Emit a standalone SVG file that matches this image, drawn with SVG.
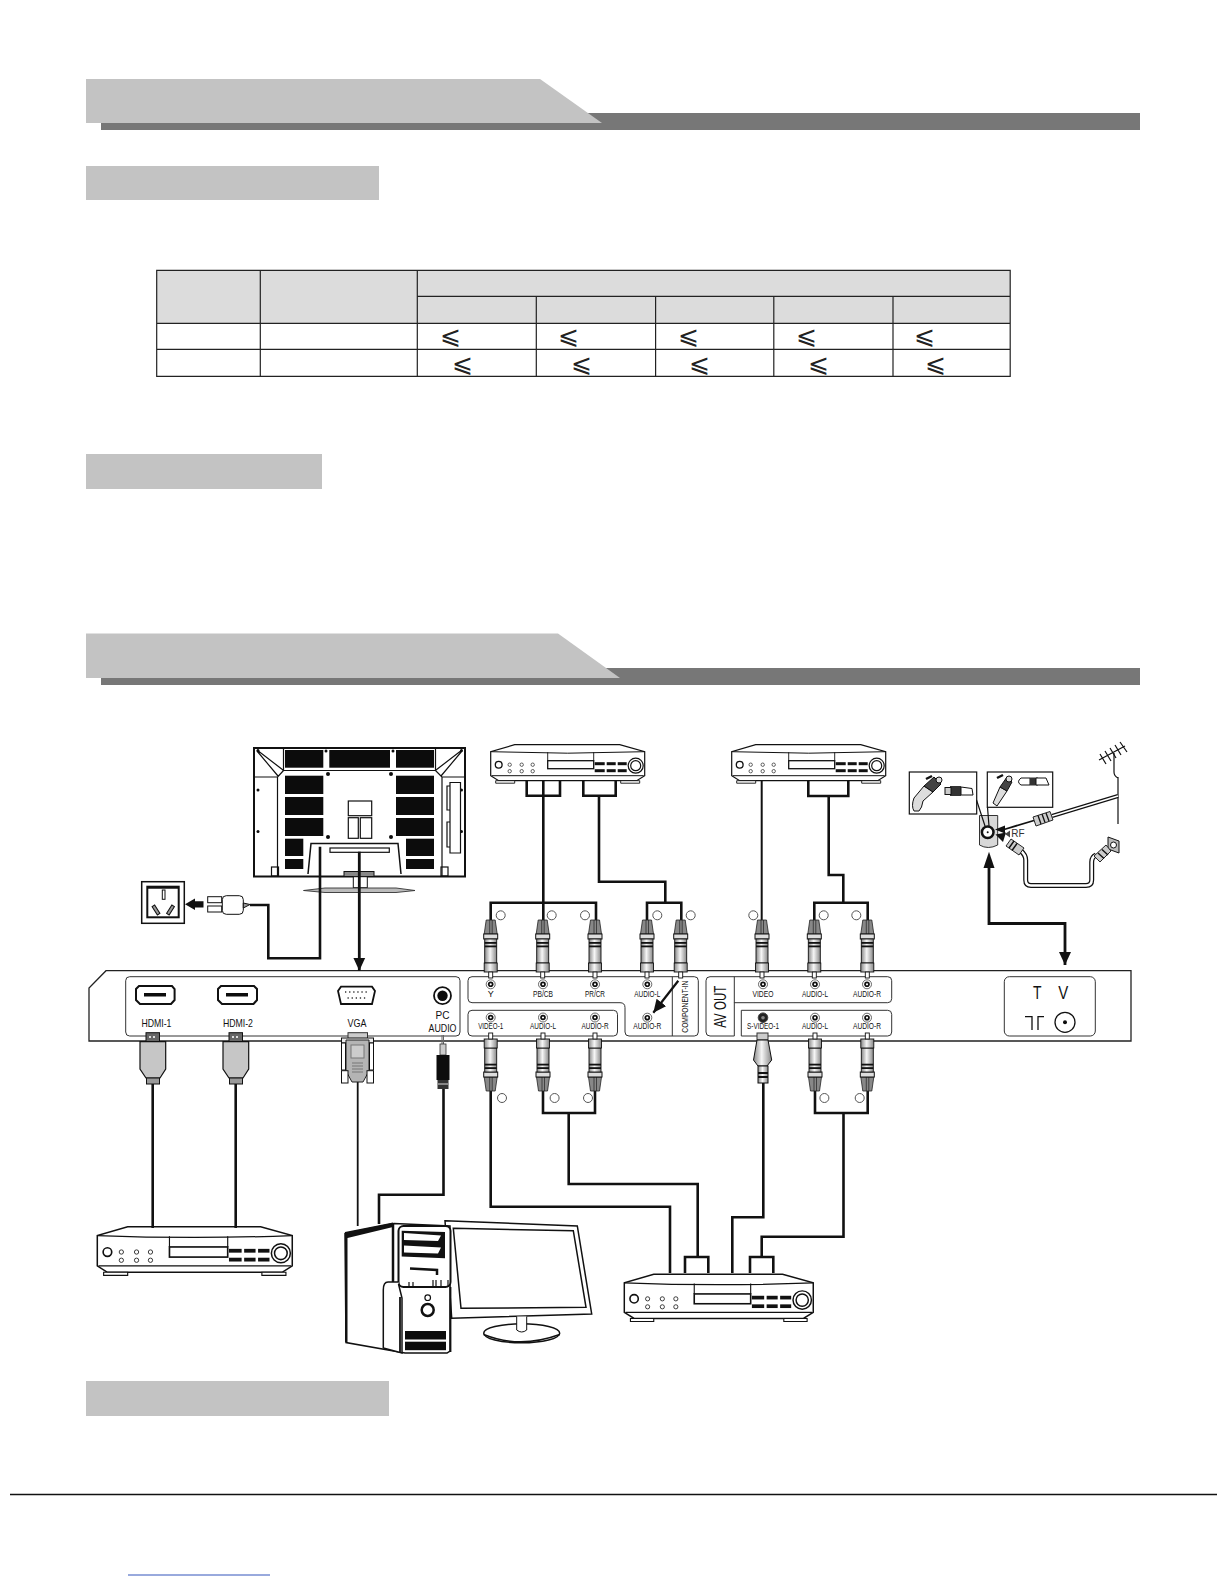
<svg xmlns="http://www.w3.org/2000/svg" width="1224" height="1584" viewBox="0 0 1224 1584">
<style>
text{font-family:"Liberation Sans",Arial,sans-serif;fill:#111;text-anchor:middle}
.s{font-size:9px}.m{font-size:11px}.l{font-size:17px}
.le{font-family:"DejaVu Sans",sans-serif;font-size:25px;font-weight:200;fill:#222}
.w{fill:none;stroke:#111;stroke-width:2.6;stroke-linejoin:miter}
.t{fill:none;stroke:#111;stroke-width:1.2}
.p{fill:#fff;stroke:#333;stroke-width:1}
.b{fill:#0c0c0c}
.c{fill:#fff;stroke:#555;stroke-width:1}
.cell{fill:#dcdcdc}
.tb{fill:none;stroke:#222;stroke-width:1.2}
.rib{fill:#ccc;stroke:#111;stroke-width:.9}
</style>
<defs>
<linearGradient id="g" x1="0" x2="1" y1="0" y2="0"><stop offset="0" stop-color="#888"/><stop offset=".45" stop-color="#f6f6f6"/><stop offset="1" stop-color="#888"/></linearGradient>
<marker id="ah" markerUnits="userSpaceOnUse" markerWidth="14" markerHeight="14" refX="13" refY="6.5" orient="auto"><path d="M0,0.5L13,6.5L0,12.5Z" fill="#111"/></marker>
<g id="jack"><circle r="4.5" fill="#fff" stroke="#444" stroke-width=".8"/><circle r="2.8" fill="#111"/><circle r="1.1" fill="#fff"/></g>
<g id="rca">
<path d="M-4.5,0H4.5L6.5,14H-6.5Z" fill="#888" stroke="#222" stroke-width=".8"/>
<path d="M-1,0V14M1.5,0V14" stroke="#222" stroke-width=".7"/>
<rect x="-7" y="14" width="14" height="5" fill="#ddd" stroke="#111"/>
<rect x="-6" y="19" width="12" height="24" fill="url(#g)" stroke="#111" stroke-width=".9"/>
<rect x="-6" y="22" width="12" height="1.8" fill="#111"/><rect x="-6" y="25.500" width="12" height="1.8" fill="#111"/>
<rect x="-6.500" y="43" width="13" height="9" fill="url(#g)" stroke="#111" stroke-width=".9"/>
<rect x="-2" y="52" width="4" height="6" fill="#fff" stroke="#111" stroke-width=".9"/>
</g>
<g id="dvd">
<path d="M24,0H129L154,7V31L146,36H8L0,31V7Z" fill="#fff" stroke="#111" stroke-width="1.2"/>
<path d="M0,7Q77,10 154,7M1,31H153" fill="none" stroke="#111" stroke-width="1"/>
<path d="M57,7.500V16M103,7.500V16" stroke="#111" stroke-width=".9"/>
<rect x="57" y="16" width="46" height="8" fill="#fff" stroke="#111" stroke-width="1.3"/>
<path d="M5,36H24V38.500H5ZM130,36H149V38.500H130Z" fill="#fff" stroke="#111" stroke-width=".9"/>
<circle cx="8" cy="20" r="3.400" fill="#fff" stroke="#111" stroke-width="1.3"/>
<g fill="#fff" stroke="#222" stroke-width=".7"><circle cx="19" cy="20" r="1.700"/><circle cx="31" cy="20" r="1.700"/><circle cx="42" cy="20" r="1.700"/><circle cx="19" cy="26.500" r="1.700"/><circle cx="31" cy="26.500" r="1.700"/><circle cx="42" cy="26.500" r="1.700"/></g>
<g fill="#111"><rect x="104" y="17.500" width="10" height="3"/><rect x="116" y="17.500" width="9" height="3"/><rect x="127" y="17.500" width="9" height="3"/><rect x="104" y="24.500" width="10" height="3"/><rect x="116" y="24.500" width="9" height="3"/><rect x="127" y="24.500" width="9" height="3"/></g>
<circle cx="145" cy="21" r="7.500" fill="#fff" stroke="#111" stroke-width="1.200"/><circle cx="145" cy="21" r="5" fill="#fff" stroke="#111" stroke-width="1.200"/>
</g>
</defs>
<rect width="1224" height="1584" fill="#fff"/>

<g id="heading-bars">
<path d="M585,113H1140V130H101V123H585Z" fill="#777"/>
<path d="M86,79H540L602,123H86Z" fill="#c3c3c3"/>
<rect x="86" y="166" width="293" height="34" fill="#c3c3c3"/>
<rect x="86" y="454" width="236" height="35" fill="#c3c3c3"/>
<path d="M600,668H1140V685H101V678H600Z" fill="#777"/>
<path d="M86,633.500H558L620,678H86Z" fill="#c3c3c3"/>
<rect x="86" y="1381" width="303" height="35" fill="#c3c3c3"/>
<path d="M10,1494.500H1217" stroke="#111" stroke-width="1.500"/>
<path d="M128,1575H270" stroke="#3355bb" stroke-width="1"/>
</g>

<g id="spec-table">
<rect class="cell" x="156.700" y="270.300" width="853.500" height="53"/>
<path class="tb" d="M156.700,270.300H1010.200V376.300H156.700ZM417.300,296.300H1010.200M156.700,323.300H1010.200M156.700,349.300H1010.200M260.300,270.300V376.300M417.300,270.300V376.300M536.300,296.300V376.300M655.600,296.300V376.300M773.800,296.300V376.300M893,296.300V376.300"/>
<text class="le" x="450.500" y="344">⩽</text><text class="le" x="568.700" y="344">⩽</text><text class="le" x="688" y="344">⩽</text><text class="le" x="806" y="344">⩽</text><text class="le" x="924.300" y="344">⩽</text>
<text class="le" x="462.700" y="372">⩽</text><text class="le" x="581" y="372">⩽</text><text class="le" x="699" y="372">⩽</text><text class="le" x="818" y="372">⩽</text><text class="le" x="935.500" y="372">⩽</text>
</g>

<g id="tv-rear">
<rect x="254" y="748" width="211" height="128.500" fill="#fff" stroke="#111" stroke-width="2"/>
<path class="t" d="M283.500,748V770.500H435.500V748M283.500,770.500L277.500,777V876M435.500,770.500L442,777V876M277.500,777H254M442,777H465M257,751L278,776M257,750L283,770"/>
<path class="t" d="M462,751L441,776M462,750L436,770"/>
<g class="b"><rect x="285" y="750" width="38.300" height="17.700"/><rect x="329.300" y="750" width="60.700" height="17.700"/><rect x="396" y="750" width="38" height="17.700"/>
<rect x="285" y="775.700" width="38.300" height="18.300"/><rect x="285" y="797" width="38.300" height="18"/><rect x="285" y="818" width="38.300" height="18"/>
<rect x="396" y="775.700" width="38" height="18.300"/><rect x="396" y="797" width="38" height="18"/><rect x="396" y="818" width="38" height="18"/>
<rect x="285" y="838.700" width="18.300" height="17.300"/><rect x="285" y="859" width="18.300" height="10"/><rect x="406" y="838.700" width="28" height="17.300"/><rect x="406" y="859" width="28" height="10"/>
<circle cx="258" cy="750.500" r="1.500"/><circle cx="461.500" cy="750.500" r="1.500"/><circle cx="258" cy="790" r="1.500"/><circle cx="258" cy="831.500" r="1.500"/><circle cx="461.500" cy="790" r="1.500"/><circle cx="461.500" cy="831.500" r="1.500"/><circle cx="326" cy="751" r="1.500"/><circle cx="393" cy="751" r="1.500"/><circle cx="328" cy="774" r="2"/><circle cx="391" cy="774" r="2"/><circle cx="328" cy="837" r="2"/><circle cx="391" cy="837" r="2"/></g>
<rect class="t" x="348.300" y="801" width="23.400" height="14.700"/><rect class="t" x="348.300" y="817.700" width="10" height="20.600"/><rect class="t" x="360.300" y="817.700" width="11.400" height="20.600"/>
<path d="M308,874L311,843.500H398L401,874" fill="#fff" stroke="#111" stroke-width="1.500"/>
<rect class="t" x="330" y="848" width="59.300" height="4.300"/>
<path class="t" d="M450,782.500H460.500V853H450ZM450,786H447V810H450M450,822H447V847H450"/>
<rect class="t" x="271.500" y="867" width="7" height="9"/><rect class="t" x="441" y="867" width="7" height="9"/>
<rect x="344" y="871.500" width="30" height="5" fill="#888" stroke="#111"/>
<rect x="353.300" y="876.700" width="14" height="11" fill="#fff" stroke="#111"/>
<path d="M303.500,890.500L325,888H396L415,890.500L396,892.500H325Z" fill="#bbb" stroke="#333" stroke-width=".9"/>
</g>

<g id="wall-socket">
<rect x="141.700" y="881.700" width="42.600" height="41.600" fill="#fff" stroke="#111" stroke-width="1.500"/>
<rect x="147.300" y="886.700" width="31.400" height="30.600" fill="#fff" stroke="#111" stroke-width="2"/>
<path d="M147.300,887.500H178.700" stroke="#111" stroke-width="2.500"/>
<rect x="162.300" y="890" width="2.700" height="9.300" fill="#fff" stroke="#111"/>
<rect x="154.500" y="905" width="3" height="10" fill="#999" stroke="#111" transform="rotate(-32 156 910)"/>
<rect x="169" y="905" width="3" height="10" fill="#999" stroke="#111" transform="rotate(32 170.500 910)"/>
<path d="M203.500,901.200H195V898.500L185,904.300L195,910V907.400H203.500Z" fill="#111"/>
</g>
<g id="power-plug">
<rect x="207.700" y="896.700" width="14" height="6" fill="#fff" stroke="#111"/><rect x="207.700" y="906" width="14" height="6" fill="#fff" stroke="#111"/>
<rect x="222.300" y="895.700" width="21" height="18.600" rx="4" fill="#fff" stroke="#111"/>
<path d="M243.300,903L250,904.500L243.300,908Z" fill="#999" stroke="#111"/>
</g>

<use href="#dvd" id="dvd-a" transform="translate(490.700,744.700)"/>
<use href="#dvd" id="dvd-b" transform="translate(731.700,744.700)"/>
<use href="#dvd" id="dvd-c" transform="translate(97.300,1226.700) scale(1.266)"/>
<use href="#dvd" id="dvd-d" transform="translate(624.300,1274.300) scale(1.227)"/>

<g id="antenna-panel">
<rect x="909.300" y="772" width="67.400" height="42" fill="#fff" stroke="#111" stroke-width="1.200"/>
<rect x="987.300" y="772" width="65.400" height="35.300" fill="#fff" stroke="#111" stroke-width="1.200"/>
<path d="M979.500,815.500H997.700V845Q988,850 979.500,845Z" fill="#d8d8d8" stroke="#333"/>
<path class="t" d="M976.500,800L985,826M987.500,807.300L989,826"/>
<circle cx="987.700" cy="832.300" r="5.800" fill="#fff" stroke="#111" stroke-width="2.500"/><circle cx="987.700" cy="832.300" r="1" fill="#111"/>
<path d="M914,811Q911,806 914,798L924,786L933,792L923,801Q922,808 919,811Z" fill="#ddd" stroke="#111"/>
<path d="M924,786L934,777L941,784L933,792Z" fill="#444" stroke="#111"/><circle cx="939" cy="780" r="3" fill="#ddd" stroke="#111"/>
<path d="M926,779L932,776" stroke="#111" stroke-width="2.500"/>
<rect x="950" y="786" width="11" height="10" fill="#333"/><rect x="945" y="787.500" width="6" height="7" fill="#ccc" stroke="#111"/><path d="M961,787L972,788.500L973,795H961Z" fill="#fff" stroke="#111"/>
<path d="M993,803L1000,787L1007,791L997,806Z" fill="#ddd" stroke="#111"/>
<path d="M1000,787L1007,777L1012,782L1007,791Z" fill="#444" stroke="#111"/><circle cx="1009" cy="779" r="3" fill="#ddd" stroke="#111"/>
<path d="M997,778L1003,775" stroke="#111" stroke-width="2.500"/>
<path d="M1021,778H1030V785H1021Q1016,782 1021,778Z" fill="#fff" stroke="#111"/><rect x="1030" y="777.500" width="8" height="8" fill="#333"/><path d="M1036,778H1046L1049,785H1036Z" fill="#fff" stroke="#111"/>
<path d="M1010,830.500V837.500L1005,834Z" fill="#444"/>
<text class="s" x="1018" y="837" style="font-size:10px;fill:#333">RF</text>
<path class="t" d="M1118,777V824M1114,753V772Q1114,776 1118,778"/>
<path class="t" d="M1099,760L1125,746M1100,754L1106,764M1105,751L1111,761M1110,748L1116,758M1115,745L1121,755M1120,742L1127,752"/>
<path d="M1108,837L1119,841V853L1108,849Z" fill="#bbb" stroke="#111"/>
<circle cx="1113.500" cy="845" r="3" fill="#fff" stroke="#111"/>
</g>

<g id="computer">
<path d="M445,1220.700L577.300,1226L591.700,1314L451.700,1318.300Z" fill="#fff" stroke="#111" stroke-width="1.500"/>
<path d="M453.300,1228.300L573.300,1230.700L586,1307.300L461,1308.300Z" fill="#fff" stroke="#111" stroke-width="1.500"/>
<ellipse cx="521.700" cy="1333.300" rx="38" ry="9.500" fill="#fff" stroke="#111" stroke-width="1.500"/>
<path d="M483.700,1334.500Q520,1349 559.700,1334.500" fill="none" stroke="#111" stroke-width="1.500"/>
<path d="M516.700,1316.500V1330Q521.700,1334 526.700,1330V1316.500" fill="#fff" stroke="#111"/>
<path d="M345,1233.500L394,1223.500L450,1226V1351L447,1353H405L346,1342.500Z" fill="#fff" stroke="#111" stroke-width="1.500"/>
<path d="M345,1232L393,1222.500V1227L347.500,1238V1342H345Z" fill="#111"/>
<path d="M393,1224V1282" stroke="#111" stroke-width="2.500"/>
<rect x="398.500" y="1226" width="52" height="61" rx="5" fill="#fff" stroke="#111" stroke-width="2"/>
<path d="M401.700,1230.700L445,1232V1258.300L401.700,1256.500Z" fill="#111"/>
<path d="M404,1233L441,1235.500L438,1241L404,1240ZM404,1245.500L441,1247.500L438,1253.500L404,1252.500Z" fill="#fff"/>
<path d="M410,1268.500L437,1270V1275" fill="none" stroke="#111" stroke-width="2.500"/>
<path class="t" d="M409,1282V1287M413,1282V1287M433,1280V1287M436,1280V1287M441,1280V1287M448,1280V1287"/>
<path d="M398.500,1282H388Q383.300,1282 383.300,1290V1348L402,1353V1298L398.500,1284" fill="#fff" stroke="#111" stroke-width="1.500"/>
<path d="M400,1297V1353M450.500,1287V1352" stroke="#111" stroke-width="1.800"/>
<circle cx="427.700" cy="1297.700" r="2.800" fill="#fff" stroke="#111" stroke-width="1.200"/>
<circle cx="427.700" cy="1310" r="6" fill="#fff" stroke="#111" stroke-width="2.500"/>
<rect class="b" x="405" y="1331" width="41" height="8.500"/><rect class="b" x="405" y="1341.700" width="41" height="8.500"/>
</g>

<g id="input-panel">
<path d="M106,970.700H1131V1041H89V988Z" fill="#fff" stroke="#222" stroke-width="1.300"/>
<g id="pc-inputs">
<rect class="p" x="125.700" y="976.700" width="334.300" height="59.300" rx="4"/>
<path d="M139,986H172L174.600,989V1000L171,1004H140L136,1000V989Z" fill="#fff" stroke="#111" stroke-width="2"/><rect class="b" x="144" y="993" width="22" height="3.500"/>
<path d="M221,986H254L257,989V1000L253.500,1004H222L218,1000V989Z" fill="#fff" stroke="#111" stroke-width="2"/><rect class="b" x="226" y="993" width="22" height="3.500"/>
<path d="M341,986.700H372L375,991L372,1004H341L338,991Z" fill="#fff" stroke="#111" stroke-width="1.800"/>
<path d="M345,992H369M347.500,998H367" stroke="#333" stroke-width="1.300" stroke-dasharray="1.300 2.800"/>
<circle cx="442.500" cy="995.700" r="8.500" fill="#fff" stroke="#111" stroke-width="1.800"/><circle cx="442.500" cy="995.700" r="5.200" class="b"/>
<text class="m" x="156.400" y="1027" textLength="30" lengthAdjust="spacingAndGlyphs">HDMI-1</text>
<text class="m" x="237.900" y="1027" textLength="30" lengthAdjust="spacingAndGlyphs">HDMI-2</text>
<text class="m" x="357" y="1027" textLength="19" lengthAdjust="spacingAndGlyphs">VGA</text>
<text class="m" x="442.500" y="1019" textLength="14" lengthAdjust="spacingAndGlyphs">PC</text>
<text class="m" x="442.500" y="1032" textLength="28" lengthAdjust="spacingAndGlyphs">AUDIO</text>
</g>
<g id="component-inputs">
<path class="p" d="M472,976.700H694.300Q698.300,976.700 698.300,980.700V1032Q698.300,1036 694.300,1036H629Q625,1036 625,1032V1007.700Q625,1002.700 620,1002.700H472Q468,1002.700 468,998.700V980.700Q468,976.700 472,976.700Z"/>
<path d="M672.300,976.700V1036" stroke="#333"/>
<path class="p" d="M472,1010.300H613.500Q617.500,1010.300 617.500,1014.300V1032Q617.500,1036 613.500,1036H472Q468,1036 468,1032V1014.300Q468,1010.300 472,1010.300Z"/>
<use href="#jack" x="490.700" y="984.300"/><use href="#jack" x="543" y="984.300"/><use href="#jack" x="595" y="984.300"/><use href="#jack" x="647.300" y="984.300"/><use href="#jack" x="647.300" y="1017.700"/>
<use href="#jack" x="490.700" y="1017.500"/><use href="#jack" x="543" y="1017.500"/><use href="#jack" x="595" y="1017.500"/>
<text class="s" x="490.700" y="997.300">Y</text>
<text class="s" x="543" y="997.300" textLength="20" lengthAdjust="spacingAndGlyphs">PB/CB</text>
<text class="s" x="595" y="997.300" textLength="20" lengthAdjust="spacingAndGlyphs">PR/CR</text>
<text class="s" x="647.300" y="997.300" textLength="26" lengthAdjust="spacingAndGlyphs">AUDIO-L</text>
<text class="s" x="647.300" y="1029.300" textLength="28" lengthAdjust="spacingAndGlyphs">AUDIO-R</text>
<text class="s" x="490.700" y="1029.300" textLength="25" lengthAdjust="spacingAndGlyphs">VIDEO-1</text>
<text class="s" x="543" y="1029.300" textLength="26" lengthAdjust="spacingAndGlyphs">AUDIO-L</text>
<text class="s" x="595" y="1029.300" textLength="27" lengthAdjust="spacingAndGlyphs">AUDIO-R</text>
<text class="s" transform="translate(688,1006.700) rotate(-90)" textLength="52" lengthAdjust="spacingAndGlyphs">COMPONENT-IN</text>
</g>
<g id="av-out">
<path class="p" d="M710,976.700H887.700Q891.700,976.700 891.700,980.700V998.700Q891.700,1002.700 887.700,1002.700H734.300V1036H710Q706,1036 706,1032V980.700Q706,976.700 710,976.700Z"/>
<path d="M734.300,976.700V1003" stroke="#333"/>
<path class="p" d="M741.300,1010.300H887.700Q891.700,1010.300 891.700,1014.300V1032Q891.700,1036 887.700,1036H741.300Z"/>
<use href="#jack" x="763" y="984.300"/><use href="#jack" x="815" y="984.300"/><use href="#jack" x="867" y="984.300"/>
<circle cx="763" cy="1017.700" r="4.800" fill="#222" stroke="#444"/><circle cx="763" cy="1017.700" r="1.800" fill="#888"/>
<use href="#jack" x="815" y="1017.700"/><use href="#jack" x="867" y="1017.700"/>
<text class="s" x="763" y="997.300" textLength="21" lengthAdjust="spacingAndGlyphs">VIDEO</text>
<text class="s" x="815" y="997.300" textLength="26" lengthAdjust="spacingAndGlyphs">AUDIO-L</text>
<text class="s" x="867" y="997.300" textLength="28" lengthAdjust="spacingAndGlyphs">AUDIO-R</text>
<text class="s" x="763" y="1029.300" textLength="32" lengthAdjust="spacingAndGlyphs">S-VIDEO-1</text>
<text class="s" x="815" y="1029.300" textLength="26" lengthAdjust="spacingAndGlyphs">AUDIO-L</text>
<text class="s" x="867" y="1029.300" textLength="28" lengthAdjust="spacingAndGlyphs">AUDIO-R</text>
<text class="l" transform="translate(726,1006.700) rotate(-90)" textLength="42" lengthAdjust="spacingAndGlyphs">AV OUT</text>
</g>
<g id="tv-input">
<rect class="p" x="1004.300" y="976.700" width="91" height="59.300" rx="5"/>
<text x="1037.300" y="998.500" style="font-size:19px" textLength="8.500" lengthAdjust="spacingAndGlyphs">T</text><text x="1063.300" y="998.500" style="font-size:19px" textLength="10" lengthAdjust="spacingAndGlyphs">V</text>
<path d="M1025,1016.700H1032V1030M1044,1016.700H1038V1030" fill="none" stroke="#111" stroke-width="1.300"/>
<circle cx="1065" cy="1022.300" r="10" fill="#fff" stroke="#111" stroke-width="1.300"/><circle cx="1065" cy="1022.300" r="2" class="b"/>
</g>
</g>

<g id="connectors">
<path class="w" d="M320,846.700V958.300H268.300V905H250"/>
<path class="w" style="stroke-width:2.800" d="M359.300,851.700V970.700" marker-end="url(#ah)"/>
<path class="w" d="M526.700,780V795.700H560V780M543.300,780V922M490.700,922V902.700H596V922"/>
<path class="w" d="M583.300,780V795.700H615.700V780M599,795.700V881.700H665.300V902.700M647,922V902.700H681.300V922"/>
<path class="w" style="stroke-width:2" d="M761.700,780V922"/>
<path class="w" d="M808.300,780V796H848.300V780M828.700,796V875H843.300V902.700M814.300,922V902.700H867.700V922"/>
<path class="w" style="stroke-width:2.200" d="M678.300,980.700L653.300,1012.700" marker-end="url(#ah)"/>
<path class="w" d="M152.700,1084V1228M235.700,1084V1228"/>
<path class="w" style="stroke-width:1.800" d="M357.700,1082V1226"/>
<path class="w" d="M443.500,1088V1194.700H379V1224"/>
<path class="w" d="M490.700,1090V1206.700H670V1273"/>
<path class="w" d="M543,1090V1113H595V1090M568.700,1113V1184H697.700V1257M685,1273V1257H708.300V1273"/>
<path class="w" d="M763.300,1083V1217.300H732.300V1273"/>
<path class="w" d="M815,1090V1113H867.700V1090M843.500,1113V1236.700H761.700V1257M750,1273V1257H773.300V1273"/>
<path class="w" style="stroke-width:2.800" d="M989,860V923.500H1065V965" marker-end="url(#ah)"/>
<path d="M989,851.700L994.500,868H983.500Z" fill="#111"/>
<path d="M995,829.500L1005,825.500V833.500Z" fill="#111"/>
<path d="M1034,820.500L1004,829.500" stroke="#111" stroke-width="1.800"/>
<path d="M995.500,834.500L1006,832.500L1003,842Z" fill="#111"/>
<path d="M1052,816L1118,796" stroke="#111" stroke-width="4"/><path d="M1052,816L1118,796" stroke="#fff" stroke-width="1.800"/>
<path d="M1021,851Q1025.700,855 1025.700,860V880Q1025.700,885.500 1031,885.500H1086Q1091.700,885.500 1091.700,880V862Q1091.700,857 1096,855" fill="none" stroke="#111" stroke-width="5"/>
<path d="M1021,851Q1025.700,855 1025.700,860V880Q1025.700,885.500 1031,885.500H1086Q1091.700,885.500 1091.700,880V862Q1091.700,857 1096,855" fill="none" stroke="#fff" stroke-width="2.500"/>
<path class="rib" d="M1033,817L1050,811.500L1053,820L1036,826Z"/><path d="M1038,815.500L1041,824M1042,814L1045,822.500M1046,813L1049,821" stroke="#111" stroke-width="1.300"/>
<path class="rib" d="M1011,839L1024,848L1019,855L1006,846Z"/><path d="M1014,841L1009,848M1017,843.500L1012,850.500" stroke="#111" stroke-width="1.400"/>
<path class="rib" d="M1094,856L1106,845L1111,851L1100,862Z"/><path d="M1098,853L1104,858.500M1102,849.500L1108,855" stroke="#111" stroke-width="1.400"/>
</g>

<g id="plugs">
<use href="#rca" x="490.700" y="920"/><use href="#rca" x="542.700" y="920"/><use href="#rca" x="595" y="920"/><use href="#rca" x="647" y="920"/><use href="#rca" x="680.700" y="920"/>
<use href="#rca" x="762" y="920"/><use href="#rca" x="814.300" y="920"/><use href="#rca" x="867.300" y="920"/>
<use href="#rca" transform="translate(490.700,1091) scale(1,-1)"/><use href="#rca" transform="translate(543,1091) scale(1,-1)"/><use href="#rca" transform="translate(595,1091) scale(1,-1)"/>
<use href="#rca" transform="translate(815,1091) scale(1,-1)"/><use href="#rca" transform="translate(867.300,1091) scale(1,-1)"/>
<g id="hdmi-plugs">
<g id="hdmi-plug-1"><rect x="146" y="1032.700" width="13.500" height="9" fill="#666" stroke="#111"/><rect x="149" y="1036" width="2" height="2" fill="#ddd"/><rect x="153" y="1036" width="2" height="2" fill="#ddd"/>
<path d="M140,1041.700H165.700V1069L160,1078H146L140,1069Z" fill="#c6c6c6" stroke="#111" stroke-width="1.200"/><rect x="146.500" y="1078" width="13" height="6" fill="#999" stroke="#111"/></g>
<g id="hdmi-plug-2"><rect x="229" y="1032.700" width="13.500" height="9" fill="#666" stroke="#111"/><rect x="232" y="1036" width="2" height="2" fill="#ddd"/><rect x="236" y="1036" width="2" height="2" fill="#ddd"/>
<path d="M223,1041.700H248.700V1069L243,1078H229L223,1069Z" fill="#c6c6c6" stroke="#111" stroke-width="1.200"/><rect x="229.500" y="1078" width="13" height="6" fill="#999" stroke="#111"/></g>
</g>
<g id="vga-plug">
<rect x="348" y="1032.700" width="19.500" height="6" fill="#ccc" stroke="#333"/>
<rect x="341.500" y="1038" width="32" height="5" fill="#eee" stroke="#111"/>
<path d="M346,1040H369V1071L363,1082H352L346,1071Z" fill="#b4b4b4" stroke="#222"/>
<rect x="351" y="1045" width="13" height="13" fill="#ccc" stroke="#777"/>
<path d="M352,1063H363M352,1066H363M352,1069H363M352,1072H363" stroke="#777"/>
<rect x="341.500" y="1043" width="4" height="27" fill="#fff" stroke="#111"/><rect x="369.500" y="1043" width="4" height="27" fill="#fff" stroke="#111"/>
<rect x="341.500" y="1070.700" width="6.500" height="12.300" fill="#fff" stroke="#111"/><rect x="367" y="1070.700" width="6.500" height="12.300" fill="#fff" stroke="#111"/>
</g>
<g id="audio-plug">
<path d="M442,1035V1047M443.500,1035V1047" stroke="#666"/>
<rect x="440" y="1044" width="6" height="11" fill="#ccc" stroke="#333" stroke-width=".8"/>
<rect class="b" x="436.500" y="1055" width="13" height="25"/>
<rect x="437.500" y="1080" width="11" height="9" fill="#333"/><path d="M438,1084H448" stroke="#ddd"/>
</g>
<g id="svideo-plug">
<rect x="757" y="1033" width="11" height="7" fill="#ccc" stroke="#333"/>
<path d="M757,1040H768L771.700,1060L767,1066H758L753.500,1060Z" fill="url(#g)" stroke="#111"/>
<rect x="758" y="1066" width="10" height="17" fill="url(#g)" stroke="#111"/>
<rect x="758" y="1072" width="10" height="2" fill="#111"/><rect x="758" y="1076" width="10" height="2" fill="#111"/>
</g>
</g>

<g id="markers">
<circle class="c" cx="500.700" cy="915.300" r="4.500"/><circle class="c" cx="551.700" cy="915.300" r="4.500"/><circle class="c" cx="585" cy="915.300" r="4.500"/><circle class="c" cx="657.300" cy="915.300" r="4.500"/><circle class="c" cx="690.700" cy="915.300" r="4.500"/><circle class="c" cx="753.300" cy="915.300" r="4.500"/><circle class="c" cx="823.700" cy="915.300" r="4.500"/><circle class="c" cx="856.300" cy="915.300" r="4.500"/>
<circle class="c" cx="502" cy="1098" r="4.500"/><circle class="c" cx="554.600" cy="1098" r="4.500"/><circle class="c" cx="588" cy="1098" r="4.500"/><circle class="c" cx="824.400" cy="1098" r="4.500"/><circle class="c" cx="859.700" cy="1098" r="4.500"/>
</g>
</svg>
